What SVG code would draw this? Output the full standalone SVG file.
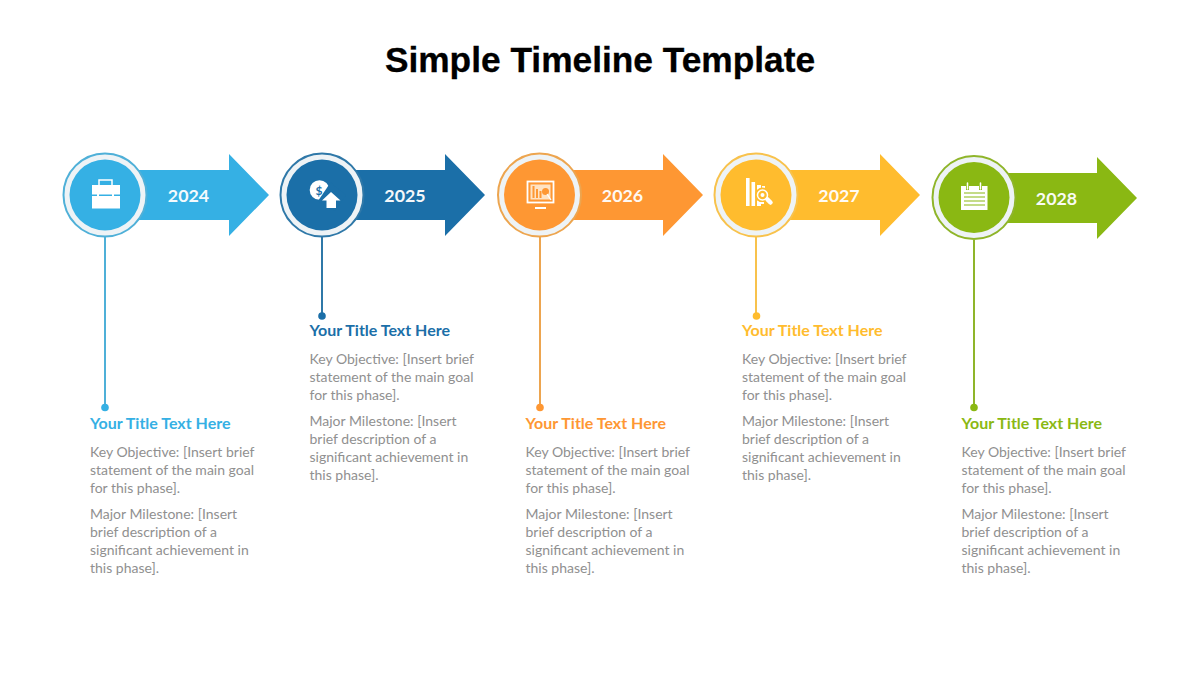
<svg xmlns="http://www.w3.org/2000/svg" width="1200" height="675" viewBox="0 0 1200 675">
<style>
.title{font:700 35.300px "Liberation Sans",Arial,sans-serif;fill:#000;text-anchor:middle;stroke:#000;stroke-width:.3px}
.yr{font:700 17.800px Lato,"Open Sans",sans-serif;fill:#fff;text-anchor:middle;opacity:.95}
.h{font:700 16px Lato,"Open Sans",sans-serif}
.b{font:400 14px Lato,"Open Sans",sans-serif;fill:#909090}
.w{fill:#fff}
.blue{fill:#35b0e4}.navy{fill:#1b6fa8}.orange{fill:#fe9733}.yellow{fill:#ffbc2e}.green{fill:#8ab813}
.sblue{stroke:#4fb0d8}.snavy{stroke:#2f78a8}.sorange{stroke:#eda54f}.syellow{stroke:#f8c24c}.sgreen{stroke:#8fb52a}
.ln{stroke-width:2;fill:none}
.ring{fill:#eef3f6;stroke-width:2}
</style>
<defs>
<path id="arrow" d="M-12 -25H88V-41L128 0L88 41V25H-12Z"/>
</defs>
<text class="title" x="600" y="72">Simple Timeline Template</text>
<g id="connectors">
<path class="ln sblue" d="M105 237V407"/><circle class="blue" cx="105" cy="407.500" r="3.800"/>
<path class="ln snavy" d="M322 237V316"/><circle class="navy" cx="322" cy="316" r="3.800"/>
<path class="ln sorange" d="M540 237V407"/><circle class="orange" cx="540" cy="407.500" r="3.800"/>
<path class="ln syellow" d="M756 237V316"/><circle class="yellow" cx="756.500" cy="316" r="3.800"/>
<path class="ln sgreen" d="M974 240V407"/><circle class="green" cx="974" cy="407.500" r="3.800"/>
</g>
<g id="node-2024">
<use href="#arrow" class="blue" x="141" y="195"/>
<circle class="ring sblue" cx="105" cy="195" r="41.500"/><circle class="blue" cx="105" cy="195" r="35.500"/>
<rect class="w" x="92" y="185" width="28" height="9.500"/><rect class="w" x="92" y="196" width="28" height="12.500"/>
<path d="M99 185V180H112V185" fill="none" stroke="#fff" stroke-width="1.500"/>
<rect class="w" x="97" y="193" width="2" height="5"/><rect class="w" x="112" y="193" width="2" height="5"/>
</g>
<g id="year-2024"><text class="yr" x="188.500" y="202">2024</text></g>
<g id="node-2025">
<use href="#arrow" class="navy" x="357" y="195"/>
<circle class="ring snavy" cx="322" cy="195" r="41.500"/><circle class="navy" cx="322" cy="195" r="35.500"/>
<circle class="w" cx="319.500" cy="190" r="9.800"/>
<path class="navy" d="M318 201L330.500 182.500L346 195L335 211Z"/>
<path class="w" d="M331 192L340.500 200.500H336V208H326.500V200.500H322Z"/>
<text x="319" y="194.500" font-family="Lato,sans-serif" font-size="12" font-weight="700" fill="#1b6fa8" text-anchor="middle">$</text>
</g>
<g id="year-2025"><text class="yr" x="405" y="202">2025</text></g>
<g id="node-2026">
<use href="#arrow" class="orange" x="575" y="195"/>
<circle class="ring sorange" cx="539.500" cy="195" r="41.500"/><circle class="orange" cx="539.500" cy="195" r="35.500"/>
<rect x="527.500" y="181.500" width="26" height="21" fill="none" stroke="#fff" stroke-width="1.800"/>
<rect x="530.500" y="184.500" width="20" height="15" fill="#ffe3c4"/>
<path fill="#fe9733" d="M532.500 186h2v12h-2zM536 189h2v9h-2zM539.500 191h2v7h-2z"/>
<circle fill="#fe9733" cx="545.500" cy="191.500" r="3.500"/>
<path d="M547 194L551 200" stroke="#fff" stroke-width="1.200"/>
<rect class="w" x="535" y="207" width="11" height="2"/>
</g>
<g id="year-2026"><text class="yr" x="622.500" y="202">2026</text></g>
<g id="node-2027">
<use href="#arrow" class="yellow" x="792" y="195"/>
<circle class="ring syellow" cx="756" cy="195" r="41.500"/><circle class="yellow" cx="756" cy="195" r="35.500"/>
<path class="w" d="M746 178h3.600v28h-3.600zM751.500 182h3.600v24h-3.600zM757 185h4v21h-4zM762 186h3v5h-3z"/>
<circle class="yellow" cx="762.500" cy="195" r="7.500"/>
<circle cx="762.500" cy="195" r="5" fill="none" stroke="#fff" stroke-width="1.500"/>
<circle class="w" cx="762.500" cy="195" r="2"/>
<path d="M758 203h6" stroke="#fff" stroke-width="2"/>
<path d="M767.500 199.500L770.500 202.500" stroke="#fff" stroke-width="4.500" stroke-linecap="round"/>
</g>
<g id="year-2027"><text class="yr" x="839" y="202">2027</text></g>
<g id="node-2028">
<use href="#arrow" class="green" x="1009" y="198"/>
<circle class="ring sgreen" cx="974" cy="197.500" r="41.500"/><circle class="green" cx="974" cy="197.500" r="35.500"/>
<path class="w" d="M961 186H966V190H969V186H979V190H982V186H987.500V210H961Z"/>
<path d="M967.500 183V189M980.500 183V189" stroke="#fff" stroke-width="1.500" stroke-linecap="round"/>
<path d="M964 193H985M964 197H985M964 201H985M964 205H985" stroke="#8ab813" stroke-width="1.100"/>
</g>
<g id="year-2028"><text class="yr" x="1056.500" y="205">2028</text></g>
<g id="text-2024">
<text class="h blue" x="90" y="429">Your Title Text Here</text>
<text class="b"><tspan x="90" y="457">Key Objective: [Insert brief</tspan><tspan x="90" y="475">statement of the main goal</tspan><tspan x="90" y="493">for this phase].</tspan><tspan x="90" y="519">Major Milestone: [Insert</tspan><tspan x="90" y="537">brief description of a</tspan><tspan x="90" y="555">significant achievement in</tspan><tspan x="90" y="573">this phase].</tspan></text>
</g>
<g id="text-2025">
<text class="h navy" x="309.500" y="336">Your Title Text Here</text>
<text class="b"><tspan x="309.500" y="364">Key Objective: [Insert brief</tspan><tspan x="309.500" y="382">statement of the main goal</tspan><tspan x="309.500" y="400">for this phase].</tspan><tspan x="309.500" y="426">Major Milestone: [Insert</tspan><tspan x="309.500" y="444">brief description of a</tspan><tspan x="309.500" y="462">significant achievement in</tspan><tspan x="309.500" y="480">this phase].</tspan></text>
</g>
<g id="text-2026">
<text class="h orange" x="525.500" y="429">Your Title Text Here</text>
<text class="b"><tspan x="525.500" y="457">Key Objective: [Insert brief</tspan><tspan x="525.500" y="475">statement of the main goal</tspan><tspan x="525.500" y="493">for this phase].</tspan><tspan x="525.500" y="519">Major Milestone: [Insert</tspan><tspan x="525.500" y="537">brief description of a</tspan><tspan x="525.500" y="555">significant achievement in</tspan><tspan x="525.500" y="573">this phase].</tspan></text>
</g>
<g id="text-2027">
<text class="h yellow" x="742" y="336">Your Title Text Here</text>
<text class="b"><tspan x="742" y="364">Key Objective: [Insert brief</tspan><tspan x="742" y="382">statement of the main goal</tspan><tspan x="742" y="400">for this phase].</tspan><tspan x="742" y="426">Major Milestone: [Insert</tspan><tspan x="742" y="444">brief description of a</tspan><tspan x="742" y="462">significant achievement in</tspan><tspan x="742" y="480">this phase].</tspan></text>
</g>
<g id="text-2028">
<text class="h green" x="961.500" y="429">Your Title Text Here</text>
<text class="b"><tspan x="961.500" y="457">Key Objective: [Insert brief</tspan><tspan x="961.500" y="475">statement of the main goal</tspan><tspan x="961.500" y="493">for this phase].</tspan><tspan x="961.500" y="519">Major Milestone: [Insert</tspan><tspan x="961.500" y="537">brief description of a</tspan><tspan x="961.500" y="555">significant achievement in</tspan><tspan x="961.500" y="573">this phase].</tspan></text>
</g>
</svg>
